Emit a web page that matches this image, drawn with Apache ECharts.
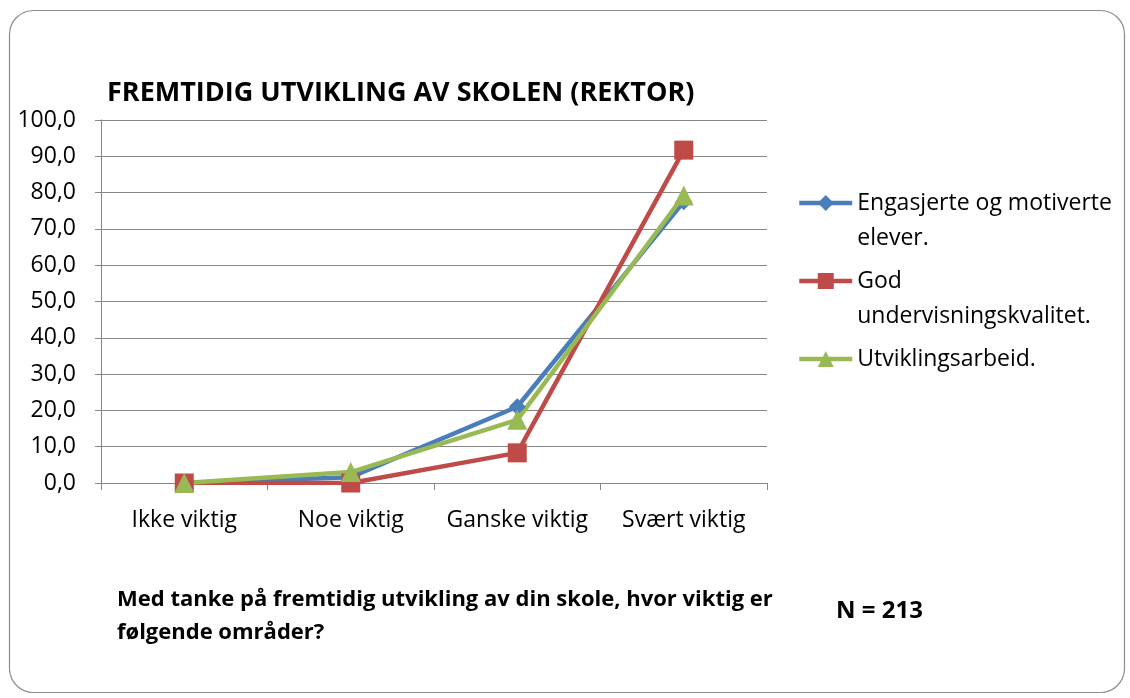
<!DOCTYPE html>
<html>
<head>
<meta charset="utf-8">
<script src="https://cdn.jsdelivr.net/npm/echarts@6/dist/echarts.min.js"></script>
<style>
html,body{margin:0;padding:0;background:#fff;}
#chart{width:1130px;height:698px;}
</style>
</head>
<body>
<div id="chart"></div>
<script>
var categories = ['Ikke viktig', 'Noe viktig', 'Ganske viktig', 'Svært viktig'];
var seriesNames = ['Engasjerte og motiverte elever.', 'God undervisningskvalitet.', 'Utviklingsarbeid.'];
var engasjerte = [0.0, 1.6, 21.0, 77.5];
var godUndervisning = [0.0, 0.0, 8.3, 91.7];
var utvikling = [0.0, 3.0, 17.4, 79.2];
var yTicks = { min: 0, max: 100, interval: 10 };

var FONT = 'Open Sans';
var chart = echarts.init(document.getElementById('chart'));

var legendText = {
  'Engasjerte og motiverte elever.': '\nEngasjerte og motiverte\nelever.',
  'God undervisningskvalitet.': '\nGod\nundervisningskvalitet.',
  'Utviklingsarbeid.': 'Utviklingsarbeid.'
};
function legendFor(name, iconY, lines) {
  var lh = 35;
  var boxH = lines > 1 ? lh * (lines + 1) : lh;
  return {
    data: [name],
    orient: 'vertical',
    left: 797,
    top: iconY - boxH / 2,
    padding: 0,
    itemWidth: 53,
    itemHeight: 20,
    itemGap: 0,
    selectedMode: false,
    lineStyle: { width: 4.5 },
    formatter: function (n) { return legendText[n]; },
    textStyle: { fontFamily: FONT, fontSize: 23, color: '#000', lineHeight: lh }
  };
}

var option = {
  backgroundColor: '#fff',
  animation: false,
  graphic: [{
    type: 'rect', left: 7, top: 8,
    shape: { width: 1115, height: 682, r: 24 },
    style: { fill: 'none', stroke: '#8c8c8c', lineWidth: 1.2 },
    z: -1
  }],
  title: [{
    text: 'FREMTIDIG UTVIKLING AV SKOLEN (REKTOR)',
    left: 107, top: 77, padding: 0,
    textStyle: { fontFamily: FONT, fontSize: 27, fontWeight: 'bold', color: '#000', lineHeight: 32 }
  }, {
    text: 'Med tanke på fremtidig utvikling av din skole, hvor viktig er\nfølgende områder?',
    left: 117, top: 583, padding: 0,
    textStyle: { fontFamily: FONT, fontSize: 22, fontWeight: 'bold', color: '#000', lineHeight: 33 }
  }, {
    text: 'N = 213',
    left: 836, top: 596, padding: 0,
    textStyle: { fontFamily: FONT, fontSize: 24, fontWeight: 'bold', color: '#000', lineHeight: 30 }
  }],
  legend: [
    legendFor(seriesNames[0], 203, 2),
    legendFor(seriesNames[1], 281, 2),
    legendFor(seriesNames[2], 359, 1)
  ],
  grid: { left: 101, right: 363, top: 120, bottom: 215, containLabel: false },
  xAxis: {
    type: 'category',
    data: categories,
    boundaryGap: true,
    axisLine: { lineStyle: { color: '#868686', width: 1 } },
    axisTick: { show: true, alignWithLabel: false, length: 7, lineStyle: { color: '#868686' } },
    axisLabel: { fontFamily: FONT, fontSize: 23, color: '#000', margin: 23, interval: 0, hideOverlap: false, lineHeight: 28 }
  },
  yAxis: {
    type: 'value',
    min: yTicks.min, max: yTicks.max, interval: yTicks.interval,
    axisLine: { show: true, lineStyle: { color: '#868686', width: 1 } },
    axisTick: { show: true, length: 6, lineStyle: { color: '#868686' } },
    splitLine: { lineStyle: { color: '#868686', width: 1 } },
    axisLabel: {
      fontFamily: FONT, fontSize: 23, color: '#000', margin: 25,
      formatter: function (v) { return v.toFixed(1).replace('.', ','); }
    }
  },
  series: [{
    name: seriesNames[0], type: 'line', data: engasjerte,
    symbol: 'diamond', symbolSize: 17,
    lineStyle: { width: 4.5, color: '#4A7EBB' },
    itemStyle: { color: '#4A7EBB' }
  }, {
    name: seriesNames[1], type: 'line', data: godUndervisning,
    symbol: 'rect', symbolSize: 19,
    lineStyle: { width: 4.5, color: '#BE4B48' },
    itemStyle: { color: '#BE4B48' }
  }, {
    name: seriesNames[2], type: 'line', data: utvikling,
    symbol: 'triangle', symbolSize: 20,
    lineStyle: { width: 4.5, color: '#98B954' },
    itemStyle: { color: '#98B954' }
  }]
};
chart.setOption(option);
</script>
</body>
</html>
